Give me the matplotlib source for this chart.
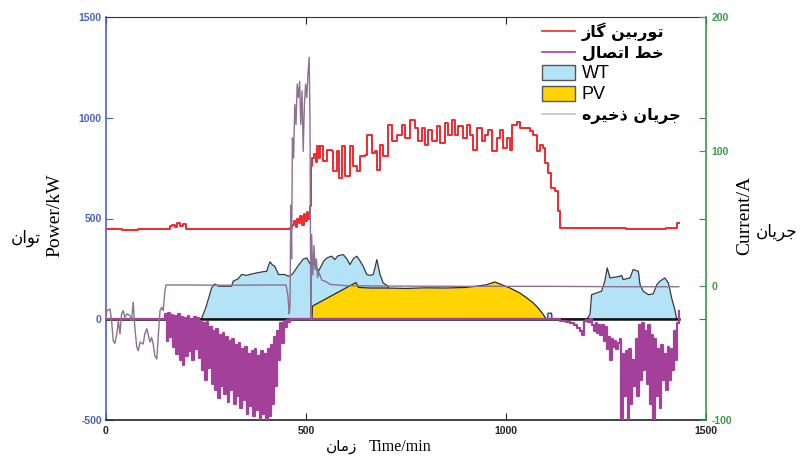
import matplotlib
matplotlib.use('Agg')
import matplotlib.pyplot as plt
from matplotlib.lines import Line2D
from matplotlib.patches import Patch

# ---------------- data ----------------
# Gas turbine power (kW)
gt_t = [0, 40, 80, 120, 150, 160, 165, 172, 178, 185, 192, 200, 210, 260, 300, 350, 400, 440,
        460, 466, 470, 474, 478, 482, 486, 490, 494, 498, 502, 506, 510, 513, 516, 520, 524, 528,
        532, 535, 543, 552, 564, 568, 577, 583, 589, 598, 610, 618, 627, 635, 647, 652, 662, 664,
        672, 678, 685, 693, 706, 714, 727, 739, 747, 760, 772, 781, 789, 797, 806, 814, 827, 835,
        847, 856, 864, 872, 881, 893, 902, 910, 918, 927, 939, 947, 956, 964, 977, 985, 993, 1002,
        1010, 1014, 1027, 1035, 1047, 1060, 1068, 1077, 1085, 1093, 1097, 1106, 1112, 1122, 1131,
        1135, 1200, 1300, 1400, 1425, 1428, 1432]
gt_p = [447, 445, 448, 446, 449, 462, 470, 458, 480, 465, 472, 450, 447, 446, 448, 447, 446, 448,
        452, 470, 490, 460, 500, 480, 510, 470, 520, 490, 530, 500, 560, 760, 800, 820, 780, 860,
        800, 858, 784, 842, 834, 734, 834, 701, 858, 709, 858, 759, 734, 809, 817, 916, 916, 825,
        834, 743, 867, 809, 966, 883, 916, 966, 900, 991, 950, 883, 950, 867, 941, 883, 958, 875,
        975, 916, 991, 916, 958, 900, 966, 916, 842, 950, 883, 916, 941, 834, 900, 941, 850, 900,
        842, 966, 980, 950, 950, 933, 916, 834, 867, 850, 775, 726, 652, 635, 536,
        453, 452, 450, 452, 455, 480, 480]

# Tie line power (kW)
tie_t = [0, 148, 152, 156, 160, 164, 168, 172, 176, 180, 184, 188, 192, 196, 200, 204, 208, 212,
         216, 220, 224, 228, 232, 236, 240, 244, 248, 252, 256, 260, 264, 268, 272, 276, 280, 284,
         288, 292, 296, 300, 304, 308, 312, 316, 320, 324, 328, 332, 336, 340, 344, 348, 352, 356,
         360, 364, 368, 372, 376, 380, 384, 388, 392, 396, 400, 404, 408, 412, 416, 420, 424, 428,
         432, 436, 440, 444, 448, 452, 456, 460,
         1135, 1150, 1160, 1170, 1178, 1185, 1190, 1195, 1200, 1205, 1210, 1215, 1220, 1224, 1228,
         1232, 1236, 1240, 1244, 1248, 1252, 1256, 1260, 1264, 1268, 1272, 1276, 1280, 1284, 1288,
         1292, 1296, 1300, 1304, 1308, 1312, 1316, 1320, 1324, 1328, 1332, 1336, 1340, 1344, 1348,
         1352, 1356, 1360, 1364, 1368, 1372, 1376, 1380, 1384, 1388, 1392, 1396, 1400, 1404, 1408,
         1412, 1416, 1420, 1424, 1428, 1432]
tie_p = [0, 25, -110, 30, -90, 20, -140, 15, -170, 25, -200, 10, -225, 5, -180, 15, -160, 0,
         -200, 10, -150, 5, -190, -10, -250, -20, -300, -15, -240, -40, -320, -60, -350, -50, -390, -80,
         -330, -70, -370, -90, -410, -110, -350, -100, -420, -130, -380, -120, -440, -150, -400, -140, -470, -170,
         -430, -160, -480, -150, -450, -180, -500, -160, -470, -170, -510, -150, -480, -130, -420, -90, -330, -60,
         -200, -20, -120, -10, -40, -5, -15, 0,
         -8, -12, -20, -30, -45, -60, -80, -10, -5, -15, 0, -30, -60, -20, -70,
         -30, -80, -30, -110, -40, -150, -90, -200, -100, -140, -110, -150, -120, -100, -500,
         -170, -380, -160, -500, -150, -420, -200, -330, -100, -380, -30, -300, -20, -250, -60,
         -320, -30, -420, -80, -500, -100, -380, -150, -440, -130, -300, -170, -350, -140, -300,
         -150, -250, -60, -200, -20, 40]

# Wind turbine power (kW)
wt_t = [0, 238, 250, 264, 272, 281, 314, 318, 330, 339, 352, 365, 377, 390, 402, 406, 410, 416,
        422, 431, 447, 456, 464, 472, 480, 493, 502, 510, 518, 531, 545, 553, 564, 572, 580, 593,
        602, 610, 618, 627, 635, 643, 652, 660, 668, 673, 677, 681, 685, 693, 706, 707,
        1104, 1105, 1114, 1115,
        1202, 1210, 1214, 1227, 1239, 1247, 1253, 1260, 1285, 1289, 1293, 1310, 1318, 1331, 1335,
        1343, 1356, 1368, 1377, 1385, 1397, 1406, 1414, 1422, 1427, 1432]
wt_p = [0, 0, 60, 155, 175, 164, 164, 189, 200, 222, 218, 225, 230, 235, 238, 265, 285, 270,
        263, 222, 222, 213, 220, 240, 265, 298, 304, 275, 290, 238, 290, 305, 313, 296, 315, 321,
        300, 271, 300, 313, 290, 263, 222, 218, 222, 260, 296, 260, 222, 180, 164, 0,
        0, 30, 30, 0,
        0, 23, 122, 131, 139, 189, 255, 205, 213, 218, 197, 205, 247, 238, 172,
        139, 122, 126, 172, 189, 205, 180, 106, 48, 0, 0]

# PV power (kW)
pv_t = [0, 515, 516, 618, 625, 631, 660, 700, 750, 800, 850, 900, 930, 951, 972, 985, 1010, 1035,
        1052, 1068, 1080, 1093, 1101, 1432]
pv_p = [0, 0, 65, 175, 182, 158, 155, 155, 153, 156, 155, 158, 165, 171, 185, 175, 155, 130,
        106, 81, 57, 24, 0, 0]

# Storage current (A)
cur_t = [0, 2, 10, 14, 18, 22, 27, 31, 35, 39, 43, 47, 52, 60, 64, 68, 72, 77, 81, 85, 93, 97,
         102, 110, 114, 118, 122, 127, 131, 135, 139, 143, 147, 150, 200, 300, 400, 450, 455, 458,
         460, 462, 464, 466, 469, 472, 475, 478, 481, 484, 487, 490, 493, 496, 499, 502, 505, 508,
         510, 512, 514, 517, 520, 523, 526, 529, 532, 540, 550, 560, 600, 700, 900, 1100, 1300, 1432]
cur_i = [-25, -18.6, -17.4, -26, -41, -43, -36, -26, -36, -21, -18.6, -23.6, -21, -22.3, -26, -12.4,
         -31, -46, -48.4, -42, -43.4, -36, -32, -42, -38.5, -43.4, -52, -54.6, -36, -18.6, -16.1,
         -18.6, -5, 0.5, 0.5, 0.3, 0.5, 0.5, -8, -21,
         -15, 60, 20, 110, 95, 135, 120, 150, 140, 152, 120, 145, 100, 135, 150, 140, 158, 170,
         120, -25, 38, 8, 30, 12, 20, 6, 10, 4, 3, 1, 0, -0.3, -0.5, -0.5, -0.8, -0.8]

# baseline extent
base_t = [0, 1432]
base_p = [0, 0]

xticks = [0, 500, 1000, 1500]
yticks_left = [-500, 0, 500, 1000, 1500]
yticks_right = [-100, 0, 100, 200]

# Persian labels (presentation forms, visual order)
lab_gt = "\uFEAF\uFE8E\uFB94 \uFEE6\uFEF4\uFE91\uFEAD\uFEEE\uFE97"      # توربین گاز
lab_tie = "\uFEDD\uFE8E\uFEBC\uFE97\uFE8D \uFEC2\uFEA7"                 # خط اتصال
lab_store = "\uFEE9\uFEAE\uFEF4\uFEA7\uFEAB \uFEE5\uFE8E\uFEF3\uFEAE\uFE9F"  # جریان ذخیره
lab_cur = "\uFEE5\uFE8E\uFEF3\uFEAE\uFE9F"                              # جریان
lab_pow = "\uFEE5\uFE8D\uFEEE\uFE97"                                    # توان
lab_time = "\uFEE5\uFE8E\uFEE3\uFEAF"                                   # زمان

# ---------------- style ----------------
C_RED = '#ee2a2e'
C_PUR = '#a3409a'
C_WT = '#b4e2f6'
C_PV = '#ffd400'
C_CUR = '#8e7090'
C_BLUE = '#4a62c4'
C_GREEN = '#3c9a4c'

fig = plt.figure(figsize=(8.03, 4.57), dpi=100)
ax = fig.add_axes([106/803, 37/457, 600/803, 403/457])
ax2 = ax.twinx()

ax.fill_between(wt_t, wt_p, 0, color=C_WT, zorder=1, lw=0)
ax.plot(wt_t, wt_p, color='#3a3a3a', lw=0.9, zorder=1.5)
ax.fill_between(pv_t, pv_p, 0, color=C_PV, zorder=2, lw=0)
ax.plot(pv_t, pv_p, color='#2a2a2a', lw=0.9, zorder=2.5)
ax.plot(base_t, base_p, color='#111111', lw=1.8, zorder=3)
ax.plot(tie_t, tie_p, color=C_PUR, lw=1.6, drawstyle='steps-post', zorder=4)
ax.plot(gt_t, gt_p, color=C_RED, lw=1.4, drawstyle='steps-post', zorder=5)

ax2.plot(cur_t, cur_i, color=C_CUR, lw=1.0, zorder=6)

ax.set_xlim(0, 1500)
ax.set_ylim(-500, 1500)
ax2.set_ylim(-100, 200)
ax.set_xticks(xticks)
ax.set_yticks(yticks_left)
ax2.set_yticks(yticks_right)
ax.set_xticklabels([str(v) for v in xticks])
ax.set_yticklabels([str(v) for v in yticks_left])
ax2.set_yticklabels([str(v) for v in yticks_right])

ax.tick_params(axis='x', direction='in', top=True, length=5, width=0.8, pad=4, colors='#222222')
ax.tick_params(axis='y', direction='in', left=True, right=True, length=5, width=0.8, pad=3,
               colors=C_BLUE)
ax2.tick_params(axis='y', direction='in', length=5, width=0.8, pad=4, colors=C_GREEN)
for lbl in ax.get_xticklabels() + ax.get_yticklabels() + ax2.get_yticklabels():
    lbl.set_fontfamily('Liberation Sans')
    lbl.set_fontsize(7.5)
    lbl.set_fontweight('bold')

ax.spines['left'].set_color(C_BLUE)
ax.spines['left'].set_linewidth(1.2)
ax.spines['right'].set_visible(False)
ax.spines['top'].set_color('#333333')
ax.spines['bottom'].set_color('#222222')
ax.spines['bottom'].set_linewidth(1.2)
ax2.spines['left'].set_visible(False)
ax2.spines['top'].set_visible(False)
ax2.spines['bottom'].set_visible(False)
ax2.spines['right'].set_color(C_GREEN)
ax2.spines['right'].set_linewidth(1.2)

# axis labels
fig.text(55/803, 1 - 215/457, 'Power/kW', rotation=90, ha='center', va='center',
         family='Liberation Serif', fontsize=14)
fig.text(26/803, 1 - 238/457, lab_pow, ha='center', va='center',
         family='DejaVu Sans', fontsize=12)
fig.text(745/803, 1 - 215/457, 'Current/A', rotation=90, ha='center', va='center',
         family='Liberation Serif', fontsize=14)
fig.text(777/803, 1 - 232/457, lab_cur, ha='center', va='center',
         family='DejaVu Sans', fontsize=12)
fig.text(400/803, 1 - 447/457, 'Time/min', ha='center', va='center',
         family='Liberation Serif', fontsize=11.5)
fig.text(342/803, 1 - 447/457, lab_time, ha='center', va='center',
         family='DejaVu Sans', fontsize=11)

# legend
handles = [Line2D([], [], color=C_RED, lw=1.2),
           Line2D([], [], color=C_PUR, lw=1.2),
           Patch(facecolor=C_WT, edgecolor='#555555', lw=1.0),
           Patch(facecolor=C_PV, edgecolor='#555555', lw=1.0),
           Line2D([], [], color='#c8bcc8', lw=1.2)]
labels = [lab_gt, lab_tie, 'WT', 'PV', lab_store]
leg = ax2.legend(handles, labels, loc='upper left', bbox_to_anchor=(0.71, 1.01),
                 frameon=False, prop=dict(family='DejaVu Sans', size=11.5, weight='bold'),
                 handlelength=2.1, handleheight=1.05, handletextpad=0.4, labelspacing=0.25,
                 borderaxespad=0.2)
for txt in leg.get_texts():
    if txt.get_text() in ('WT', 'PV'):
        txt.set_fontfamily('Liberation Sans')
        txt.set_fontweight('normal')
        txt.set_fontsize(13)

fig.savefig('out.png', dpi=100)
